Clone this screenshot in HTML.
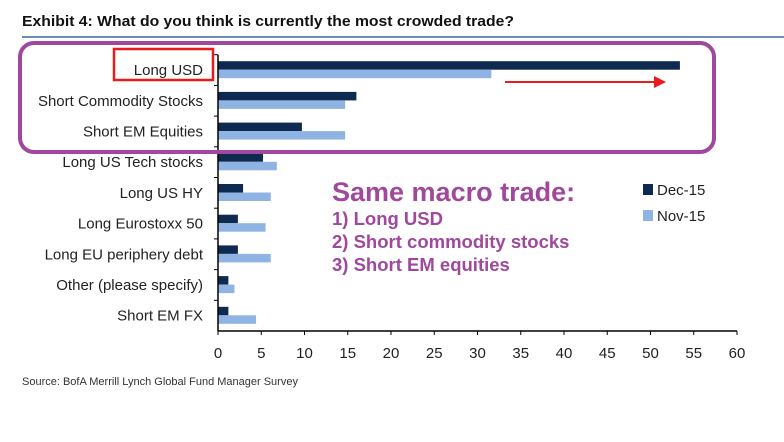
<!DOCTYPE html>
<html><head><meta charset="utf-8"><style>
body{margin:0;background:#fff;width:784px;height:437px;overflow:hidden;font-family:"Liberation Sans",sans-serif}
</style></head><body>
<svg width="784" height="437" xmlns="http://www.w3.org/2000/svg">
<text x="22" y="26" font-size="15" font-weight="bold" fill="#111" textLength="492" lengthAdjust="spacingAndGlyphs">Exhibit 4: What do you think is currently the most crowded trade?</text>
<line x1="22" y1="37" x2="784" y2="37" stroke="#6f8db5" stroke-width="2"/>
<g id="plot"></g>
<rect x="20" y="43" width="694" height="109" rx="14" fill="none" stroke="#a0479e" stroke-width="4"/>
<rect x="114" y="49" width="99" height="31" fill="none" stroke="#e81c1c" stroke-width="2.5"/>
<line x1="505" y1="82" x2="655" y2="82" stroke="#e81c1c" stroke-width="2"/>
<polygon points="654,76 666,82 654,88" fill="#e81c1c"/>
<text x="332" y="201" font-size="27" font-weight="bold" fill="#a0479e">Same macro trade:</text>
<text x="332" y="225" font-size="18.5" font-weight="bold" fill="#a0479e">1) Long USD</text>
<text x="332" y="248" font-size="18.5" font-weight="bold" fill="#a0479e">2) Short commodity stocks</text>
<text x="332" y="271" font-size="18.5" font-weight="bold" fill="#a0479e">3) Short EM equities</text>
<rect x="643" y="184" width="10" height="11" fill="#0f2a50"/>
<text x="657" y="195" font-size="15" fill="#222">Dec-15</text>
<rect x="643" y="210" width="10" height="11" fill="#8fb4e3"/>
<text x="657" y="221" font-size="15" fill="#222">Nov-15</text>
<text x="22" y="385" font-size="11" fill="#333">Source: BofA Merrill Lynch Global Fund Manager Survey</text>
</svg>
<script>
const categories=["Long USD","Short Commodity Stocks","Short EM Equities","Long US Tech stocks","Long US HY","Long Eurostoxx 50","Long EU periphery debt","Other (please specify)","Short EM FX"];
const dec15=[53.4,16,9.7,5.2,2.9,2.3,2.3,1.2,1.2];
const nov15=[31.6,14.7,14.7,6.8,6.1,5.5,6.1,1.9,4.4];
const ticks=[0,5,10,15,20,25,30,35,40,45,50,55,60];
const NS="http://www.w3.org/2000/svg";
const g=document.getElementById('plot');
const x0=218,x1=737,yBot=331;
const band=30.7;
const yTop=yBot-band*categories.length;
function xs(v){return x0+(v-0)/(60-0)*(x1-x0);}
function yb(i){return yTop+i*band;}
function mk(tag,attrs){const e=document.createElementNS(NS,tag);for(const k in attrs)e.setAttribute(k,attrs[k]);g.appendChild(e);return e;}
categories.forEach((c,i)=>{
  const y=yb(i);
  const b1=mk('rect',{x:x0,y:y+6.5,width:xs(dec15[i])-x0,height:8.5,fill:'#0f2a50'});
  
  
  const b2=mk('rect',{x:x0,y:y+15,width:xs(nov15[i])-x0,height:8.5,fill:'#8fb4e3'});
  
  
  const t=mk('text',{x:203,y:y+band/2+5,'text-anchor':'end','font-size':15,fill:'#222'});
  t.textContent=c;
  
  
  const tk=mk('line',{x1:x0-4,x2:x0,y1:y,y2:y,stroke:'#000','stroke-width':1});
  
  
});
const ya=mk('line',{x1:x0,x2:x0,y1:yTop,y2:yBot,stroke:'#000','stroke-width':1.5});


const xa=mk('line',{x1:x0,x2:x1,y1:yBot,y2:yBot,stroke:'#000','stroke-width':1.5});


ticks.forEach(v=>{
  const l=mk('line',{x1:xs(v),x2:xs(v),y1:yBot,y2:yBot+4,stroke:'#000','stroke-width':1});
  
  
  const t=mk('text',{x:xs(v),y:yBot+27,'text-anchor':'middle','font-size':15,fill:'#222'});
  t.textContent=v;
  
  
});
</script>
</body></html>
